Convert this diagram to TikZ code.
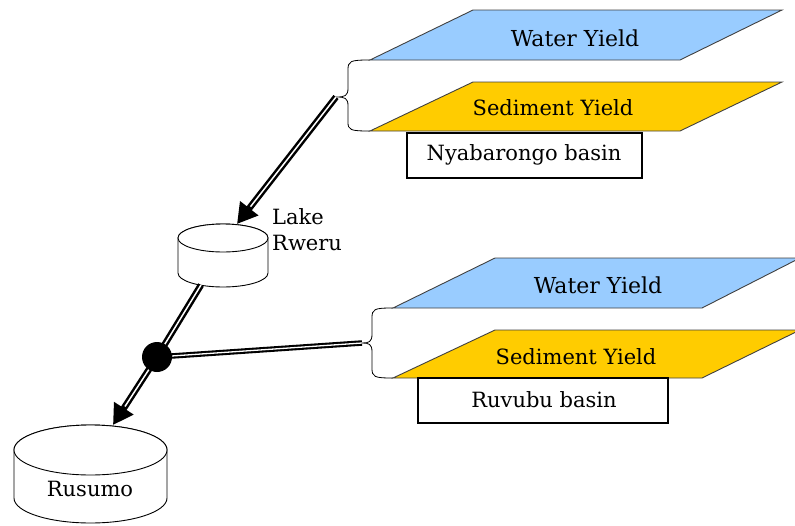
\documentclass[tikz,border=0pt]{standalone}
\usepackage{fontspec}
\setmainfont{DejaVu Serif}
\usetikzlibrary{arrows.meta}
\definecolor{wblue}{HTML}{99CCFF}
\definecolor{sgold}{HTML}{FFCC00}
\begin{document}
\begin{tikzpicture}[x=1pt,y=-1pt,
  lbl/.style={font=\fontsize{21}{25}\selectfont, inner sep=0pt},
  wlbl/.style={font=\fontsize{22}{26}\selectfont, inner sep=0pt},
  para/.style={draw=black!75, line width=0.9pt},
  basinbox/.style={draw=black, line width=2pt, fill=white},
  pipeouter/.style={draw=black, line width=6.5pt},
  pipeinner/.style={draw=white, line width=1.5pt},
  headtip/.style={-{Triangle[length=20pt,width=22pt]}},
  brc/.style={draw=black, line width=0.8pt},
  cyl/.style={draw=black, line width=0.9pt, fill=white}]
\useasboundingbox (0,0) rectangle (795,525);

% ---------- top set ----------
\path[para, fill=wblue] (473,10) -- (782,10) -- (680,60) -- (370,60) -- cycle;
\node[wlbl] (wy1) at (575,38) {Water Yield};
\path[para, fill=sgold] (473,82) -- (782,82) -- (680,131) -- (370,131) -- cycle;
\node[lbl] (sy1) at (553,108) {Sediment Yield};
\node[basinbox, minimum width=235pt, minimum height=45pt, inner sep=0pt] (nb) at (524.5,155.5) {};
\node[lbl] (nbt) at (524,155) {Nyabarongo basin};
\coordinate (b1) at (336,97);
\draw[brc] (370,60) .. controls (350,60) and (348,61) .. (348,70) -- (348,88)
  .. controls (348,96) and (345,97) .. (b1)
  .. controls (345,97) and (348,98) .. (348,106) -- (348,122)
  .. controls (348,130) and (350,131) .. (370,131);

% ---------- bottom set ----------
\path[para, fill=wblue] (495,258) -- (800,258) -- (702,308) -- (393,308) -- cycle;
\node[wlbl] (wy2) at (598,285) {Water Yield};
\path[para, fill=sgold] (495,330) -- (800,330) -- (702,378) -- (393,378) -- cycle;
\node[lbl] (sy2) at (576,357) {Sediment Yield};
\node[basinbox, minimum width=250pt, minimum height=45pt, inner sep=0pt] (rb) at (543,400.5) {};
\node[lbl] (rbt) at (544,400) {Ruvubu basin};
\coordinate (b2) at (362,343);
\draw[brc] (393,308) .. controls (374,308) and (372,309) .. (372,318) -- (372,334)
  .. controls (372,342) and (369,343) .. (b2)
  .. controls (369,343) and (372,344) .. (372,352) -- (372,368)
  .. controls (372,377) and (374,378) .. (393,378);

% ---------- Lake Rweru ----------
\path[cyl] (178,238) -- (178,273) arc[start angle=180, end angle=0, x radius=45, y radius=14] -- (268,238) arc[start angle=0, end angle=-180, x radius=45, y radius=14] -- cycle;
\draw[cyl] (223,238) ellipse[x radius=45, y radius=14];
\coordinate (lakeTop) at (237,224);
\coordinate (lakeBot) at (201,285);
\node[lbl, align=left, anchor=west, font=\fontsize{21}{26}\selectfont] (lakelbl) at (272,230) {Lake\\Rweru};

% ---------- Rusumo ----------
\path[cyl] (14,450) -- (14,498) arc[start angle=180, end angle=0, x radius=76.5, y radius=25] -- (167,450) arc[start angle=0, end angle=-180, x radius=76.5, y radius=25] -- cycle;
\draw[cyl] (90.5,450) ellipse[x radius=76.5, y radius=25];
\node[lbl] (rus) at (90,489) {Rusumo};
\coordinate (rusTop) at (113,425);

% ---------- connectors ----------
\coordinate (jn) at (157,357);
% top basin -> Lake Rweru
\draw[pipeouter, headtip] (b1) -- (lakeTop);
\draw[pipeinner, shorten >=22pt] (b1) -- (lakeTop);
% Lake Rweru -> junction
\draw[pipeouter] (lakeBot) -- (jn);
\draw[pipeinner] (lakeBot) -- (jn);
% bottom basin -> junction
\draw[pipeouter, line width=5.5pt] (b2) -- (jn);
\draw[pipeinner, line width=1.3pt] (b2) -- (jn);
% junction -> Rusumo
\draw[pipeouter, headtip] (jn) -- (rusTop);
\draw[pipeinner, shorten >=22pt] (jn) -- (rusTop);
\node[circle, fill=black, minimum size=30pt, inner sep=0pt] (junction) at (jn) {};
\end{tikzpicture}
\end{document}
